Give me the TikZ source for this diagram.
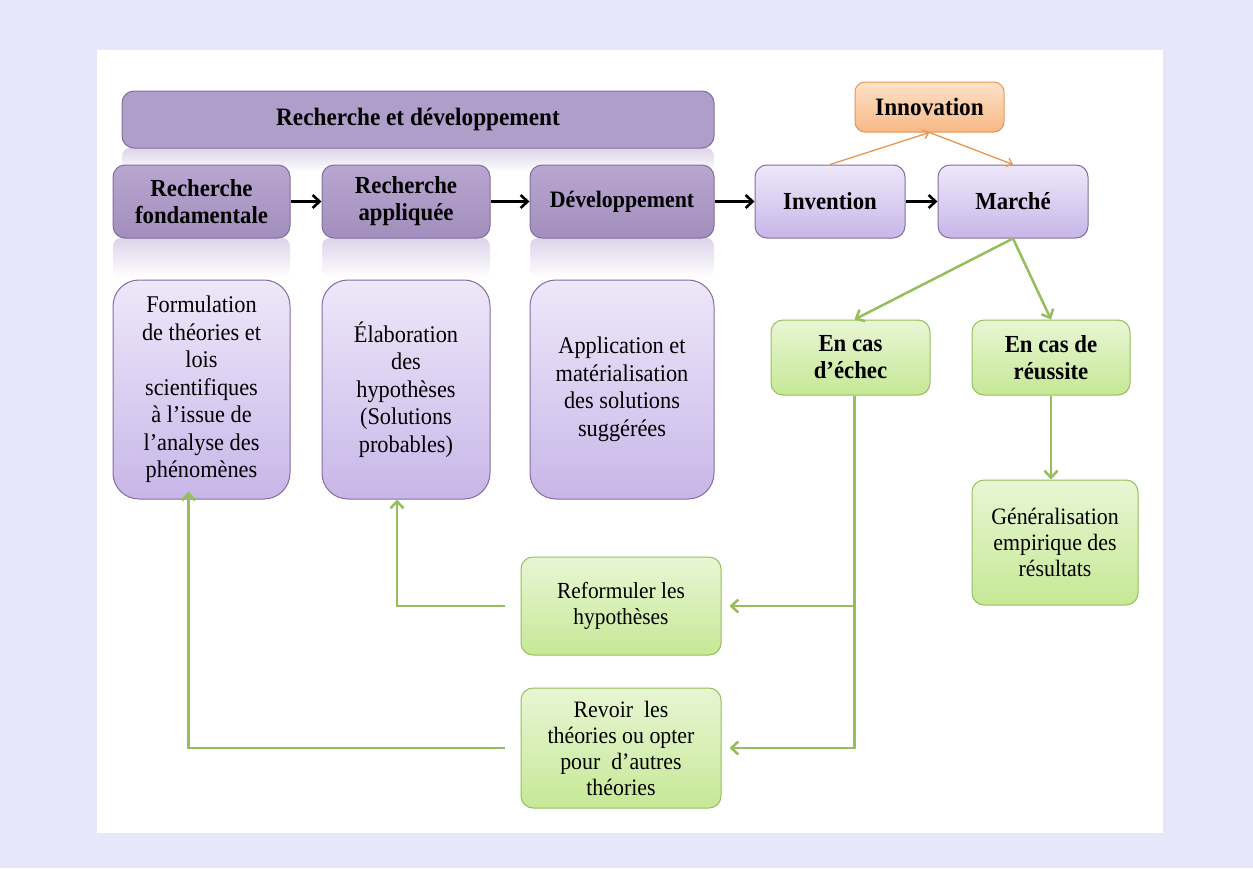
\documentclass[tikz,border=0pt]{standalone}
\usepackage{fontspec}
\setmainfont[FakeStretch=0.93]{Liberation Serif}
\usetikzlibrary{arrows.meta}
\definecolor{fondbg}{RGB}{231,231,249}
\definecolor{violetbord}{RGB}{132,110,160}
\definecolor{violetfonce}{RGB}{176,158,202}
\definecolor{violethaut}{RGB}{184,166,208}
\definecolor{violetbas}{RGB}{162,142,188}
\definecolor{violetclair}{RGB}{238,232,250}
\definecolor{violetmoyen}{RGB}{200,182,232}
\definecolor{reflet}{RGB}{220,212,233}
\definecolor{vertbord}{RGB}{150,190,92}
\definecolor{verthaut}{RGB}{232,246,212}
\definecolor{vertbas}{RGB}{198,232,150}
\definecolor{orangebord}{RGB}{232,150,80}
\definecolor{orangehaut}{RGB}{253,226,200}
\definecolor{orangebas}{RGB}{247,184,134}
% faded reflection under a box
\def\Reflet from (#1) to (#2); {
    \shade[top color=reflet, bottom color=white, rounded corners=8pt] (#1) rectangle (#2);
}
\tikzset{
    boite/.style={draw=violetbord, line width=1pt, rounded corners=12pt, align=center,
        inner sep=2pt},
    titre/.style={boite, top color=violethaut, bottom color=violetbas,
        font=\bfseries\fontsize{24.5}{27}\selectfont, minimum height=73pt},
    etape/.style={boite, top color=violetclair, bottom color=violetmoyen,
        font=\bfseries\fontsize{24.5}{27}\selectfont, minimum width=150pt, minimum height=73pt},
    detail/.style={boite, rounded corners=26pt, top color=violetclair, bottom color=violetmoyen,
        font=\fontsize{24}{27.5}\selectfont, minimum height=219pt},
    cas/.style={draw=vertbord, line width=1pt, rounded corners=12pt, align=center,
        top color=verthaut, bottom color=vertbas, inner sep=2pt},
    fleche/.style={line width=2.6pt, -{Straight Barb[length=7pt,width=13pt]}},
    vert/.style={draw=vertbord, line width=2.5pt, -{Straight Barb[length=7pt,width=13pt]}},
    orange/.style={draw=orangebord, line width=1.3pt, -{Straight Barb[length=5pt,width=9pt]}}
}
\begin{document}
\begin{tikzpicture}[x=1pt, y=-1pt]
    \useasboundingbox[fill=fondbg] (0,0) rectangle (1253,868);
    \fill[white] (97,50) rectangle (1163,833);

    % reflections
    \Reflet from (122,148) to (714,172);
    \Reflet from (113,238) to (290,278);
    \Reflet from (322,238) to (490,278);
    \Reflet from (530,238) to (714,278);

    % research chain
    \node[boite, fill=violetfonce, font=\bfseries\fontsize{25}{27}\selectfont,
        minimum width=592pt, minimum height=57pt] (rd) at (418,119.5) {Recherche et développement};
    \node[titre, minimum width=177pt] (fond) at (201.5,201.5) {Recherche\\fondamentale};
    \node[titre, minimum width=168pt] (appl) at (406,201.5) {Recherche\\appliquée};
    \node[titre, minimum width=184pt, font=\bfseries\fontsize{23.5}{27}\selectfont] (dev)
        at (622,201.5) {Développement};
    \node[etape] (inv) at (830,201.5) {Invention};
    \node[etape] (mar) at (1013,201.5) {Marché};
    \node[draw=orangebord, line width=1pt, rounded corners=10pt, top color=orangehaut,
        bottom color=orangebas, font=\bfseries\fontsize{25}{27}\selectfont,
        minimum width=149pt, minimum height=50pt] (innov) at (929.5,107) {Innovation};

    \node[detail, minimum width=177pt] (form) at (201.5,389.5)
        {Formulation\\de théories et\\lois\\scientifiques\\à l’issue de\\l’analyse des\\phénomènes};
    \node[detail, minimum width=168pt] (elab) at (406,389.5)
        {Élaboration\\des\\hypothèses\\(Solutions\\probables)};
    \node[detail, minimum width=184pt] (appli) at (622,389.5)
        {Application et\\matérialisation\\des solutions\\suggérées};

    % outcomes
    \node[cas, font=\bfseries\fontsize{24.5}{27}\selectfont, minimum width=159pt,
        minimum height=75pt] (echec) at (850.5,357.5) {En cas\\d’échec};
    \node[cas, font=\bfseries\fontsize{24.5}{27}\selectfont, minimum width=158pt,
        minimum height=75pt] (reuss) at (1051,357.5) {En cas de\\réussite};
    \node[cas, font=\fontsize{23.5}{26}\selectfont, minimum width=166pt,
        minimum height=125pt] (gene) at (1055,542.5) {Généralisation\\empirique des\\résultats};
    \node[cas, font=\fontsize{23}{25.5}\selectfont, minimum width=200pt,
        minimum height=98pt] (refo) at (621,606) {Reformuler les\\hypothèses};
    \node[cas, font=\fontsize{23.5}{26}\selectfont, minimum width=200pt,
        minimum height=120pt] (revo) at (621,748)
        {Revoir~ les\\théories ou opter\\pour~ d’autres\\théories};

    % connectors
    \draw[fleche] (fond) -- (appl);
    \draw[fleche] (appl) -- (dev);
    \draw[fleche] (dev) -- (inv);
    \draw[fleche] (inv) -- (mar);
    \draw[orange] (inv.north) -- (innov.south);
    \draw[orange] (innov.south) -- (mar.north);
    \draw[vert] (mar.south) -- ([xshift=4pt]echec.north);
    \draw[vert] (mar.south) -- (reuss.north);
    \draw[vert] (reuss.south) -- (reuss.south |- gene.north);
    \coordinate (bas) at ([xshift=4pt]echec.south |- revo.east);
    \draw[vert] ([xshift=4pt]echec.south) -- (bas) -- ([xshift=8pt]revo.east);
    \draw[vert] ([xshift=4pt]echec.south |- refo.east) -- ([xshift=8pt]refo.east);
    \draw[vert, shorten <=16pt] (refo.west) -| ([xshift=-9pt]elab.south);
    \draw[vert, shorten <=16pt] (revo.west) -| ([xshift=-13pt,yshift=8pt]form.south);
\end{tikzpicture}
\end{document}
